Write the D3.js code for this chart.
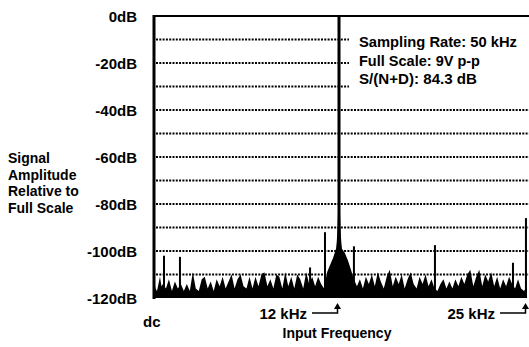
<!DOCTYPE html>
<html>
<head>
<meta charset="utf-8">
<script src="https://cdn.jsdelivr.net/npm/d3@7"></script>
<style>
  html, body { margin: 0; padding: 0; background: #fff; }
  svg { display: block; }
  text { font-family: Arial, "Liberation Sans", Helvetica, sans-serif; font-weight: bold; fill: #000; }
</style>
</head>
<body>
<svg id="chart" width="529" height="347"></svg>
<script>
// ---- data ----
const yTicks = [0, -20, -40, -60, -80, -100, -120];
const gridLevels = [-10, -20, -30, -40, -50, -60, -70, -80, -90, -100, -110];
const yLabelLines = ["Signal", "Amplitude", "Relative to", "Full Scale"];
const infoLines = ["Sampling Rate: 50 kHz", "Full Scale: 9V p-p", "S/(N+D): 84.3 dB"];
const freqMarkers = [{ label: "12 kHz", f: 12.4 }, { label: "25 kHz", f: 25 }];
// noise floor: [kHz, dB]
const noiseFloor = [
  [0.0,-111],[0.1,-116],[0.2,-117],[0.4,-111],[0.5,-115],[0.6,-114],[0.8,-116],[1.0,-112],[1.2,-117],[1.4,-113],[1.6,-116],[1.8,-114],
  [2.0,-117],[2.2,-114],[2.4,-117],[2.6,-109],[2.8,-116],[3.0,-117],[3.2,-112],[3.4,-111],[3.6,-116],[3.8,-113],
  [4.0,-117],[4.2,-112],[4.4,-115],[4.6,-111],[4.8,-116],[5.0,-113],[5.2,-110],[5.4,-116],[5.6,-112],[5.8,-110],
  [6.0,-115],[6.2,-116],[6.4,-111],[6.6,-116],[6.8,-111],[7.0,-115],[7.2,-110],[7.4,-109],[7.6,-115],[7.8,-112],
  [8.0,-116],[8.2,-110],[8.4,-111],[8.6,-116],[8.8,-109],[9.0,-115],[9.2,-111],[9.4,-116],[9.6,-110],[9.8,-112],
  [10.0,-116],[10.2,-109],[10.4,-114],[10.6,-111],[10.8,-115],[11.0,-111],[11.2,-114],[11.4,-116],[11.6,-109],[11.8,-106],
  [12.0,-103],[12.2,-99],[12.25,-96],[12.3,-90],[12.35,-80],[12.45,-80],[12.5,-90],[12.55,-96],[12.6,-99],[12.8,-101],
  [13.0,-104],[13.2,-108],[13.4,-112],[13.6,-115],[13.8,-112],[14.0,-116],[14.2,-111],[14.4,-114],[14.6,-110],[14.8,-115],
  [15.0,-109],[15.2,-113],[15.4,-116],[15.6,-111],[15.8,-108],[16.0,-115],[16.2,-111],[16.4,-114],[16.6,-110],[16.8,-116],
  [17.0,-112],[17.2,-109],[17.4,-114],[17.6,-116],[17.8,-111],[18.0,-114],[18.2,-110],[18.4,-115],[18.6,-112],[18.8,-116],
  [19.0,-117],[19.2,-114],[19.4,-112],[19.6,-116],[19.8,-113],[20.0,-116],[20.2,-112],[20.4,-115],[20.6,-111],[20.8,-114],
  [21.0,-110],[21.2,-108],[21.4,-115],[21.6,-111],[21.8,-108],[22.0,-115],[22.2,-110],[22.4,-113],[22.6,-109],[22.8,-115],
  [23.0,-111],[23.2,-116],[23.4,-112],[23.6,-115],[23.8,-111],[24.0,-114],[24.2,-116],[24.4,-112],[24.6,-116],[24.8,-117],
  [25.0,-115]
];
// discrete spurs: [kHz, dB]
const spurs = [[0.67,-102],[1.74,-102.5],[10.46,-107],[11.46,-92],[13.4,-98],[18.83,-97.5],[24.06,-105],[24.93,-86]];
// fundamental tone
const fundamental = [[12.4, 0]];

// ---- chart ----
const svg = d3.select("#chart");
const x = d3.scaleLinear().domain([0, 25]).range([154, 527]);
const y = d3.scaleLinear().domain([-120, 0]).range([298, 16]);

// grid lines (dotted)
svg.append("g").selectAll("line").data(gridLevels).join("line")
  .attr("x1", 156).attr("x2", 540)
  .attr("y1", d => y(d)).attr("y2", d => y(d))
  .attr("stroke", "#000").attr("stroke-width", 1.8)
  .attr("stroke-dasharray", "2,1.3");

// spectrum noise floor
const area = d3.area().x(d => x(d[0])).y0(y(-120)).y1(d => y(d[1])).curve(d3.curveLinear);
svg.append("path").datum(noiseFloor).attr("d", area).attr("fill", "#000");

// spurs
svg.append("g").selectAll("rect").data(spurs).join("rect")
  .attr("x", d => x(d[0]) - 1).attr("width", 2)
  .attr("y", d => y(d[1])).attr("height", d => y(-120) - y(d[1]))
  .attr("fill", "#000");

// fundamental
svg.append("g").selectAll("rect").data(fundamental).join("rect")
  .attr("x", d => x(d[0]) - 1.5).attr("width", 3)
  .attr("y", d => y(d[1])).attr("height", d => y(-120) - y(d[1]))
  .attr("fill", "#000");

// info box (white background hides grid)
const infoWidths = [158, 121, 118];
svg.append("rect").attr("x", x(12.4) + 10).attr("y", 29).attr("width", 200).attr("height", 62).attr("fill", "#fff");
svg.append("g").selectAll("text").data(infoLines).join("text")
  .attr("x", 359).attr("y", (d, i) => 47 + i * 18.5)
  .attr("textLength", (d, i) => infoWidths[i]).attr("lengthAdjust", "spacingAndGlyphs")
  .style("font-size", "15.5px")
  .text(d => d);

// frame
svg.append("line").attr("x1", 153).attr("x2", 540).attr("y1", y(0)).attr("y2", y(0))
  .attr("stroke", "#000").attr("stroke-width", 2);
svg.append("line").attr("x1", 154).attr("x2", 154).attr("y1", y(0) - 1).attr("y2", y(-120) + 1)
  .attr("stroke", "#000").attr("stroke-width", 3);

// y axis labels
const yAxis = d3.axisLeft(y).tickValues(yTicks).tickFormat(d => d + "dB").tickSize(0).tickPadding(17);
const ya = svg.append("g").attr("transform", "translate(154,0)").call(yAxis);
ya.select(".domain").remove();
ya.selectAll("text").attr("dy", "0.36em").style("font-size", "15px").style("font-family", "Arial, 'Liberation Sans', sans-serif").style("font-weight", "bold").attr("fill", "#000");

// y axis title
svg.append("g").selectAll("text").data(yLabelLines).join("text")
  .attr("x", 8).attr("y", (d, i) => 163 + i * 16.7)
  .style("font-size", "14px")
  .text(d => d);

// x axis labels
svg.append("text").attr("x", x(0) - 11).attr("y", 327).style("font-size", "15px").text("dc");
svg.append("text").attr("x", 337).attr("y", 338).attr("text-anchor", "middle").style("font-size", "14px").text("Input Frequency");

const mk = svg.append("g").selectAll("g").data(freqMarkers).join("g");
mk.append("text").attr("x", d => x(d.f) - 32).attr("y", 319).attr("text-anchor", "end")
  .style("font-size", "15px").text(d => d.label);
mk.append("path")
  .attr("d", d => `M${x(d.f) - 27},313 H${x(d.f) - 1.5} V308`)
  .attr("fill", "none").attr("stroke", "#000").attr("stroke-width", 1.5);
mk.append("path")
  .attr("d", d => `M${x(d.f) - 1.5},303 l-3.5,6 h7 z`)
  .attr("fill", "#000");
</script>
</body>
</html>
